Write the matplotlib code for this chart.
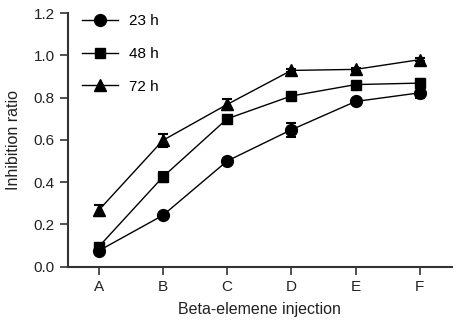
import matplotlib
matplotlib.use("Agg")
import matplotlib.pyplot as plt

plt.rcParams["font.family"] = ["Liberation Sans", "DejaVu Sans"]

groups = ["A", "B", "C", "D", "E", "F"]
h23 = [0.075, 0.243, 0.500, 0.648, 0.782, 0.823]
h23_err = [0.012, 0.010, 0.008, 0.033, 0.010, 0.025]
h48 = [0.094, 0.425, 0.700, 0.808, 0.862, 0.869]
h48_err = [0.012, 0.025, 0.008, 0.008, 0.008, 0.018]
h72 = [0.267, 0.598, 0.768, 0.929, 0.934, 0.980]
h72_err = [0.025, 0.032, 0.025, 0.008, 0.008, 0.008]

x = list(range(len(groups)))

fig = plt.figure(figsize=(4.62, 3.22), dpi=100)
ax = fig.add_axes([0.147, 0.172, 0.831, 0.787])

series = [
    ("23 h", h23, h23_err, "o", 8.5),
    ("48 h", h48, h48_err, "s", 6.5),
    ("72 h", h72, h72_err, "^", 8.5),
]
for label, vals, err, mk, ms in series:
    ax.errorbar(x, vals, yerr=err, color="black", marker=mk, markersize=ms,
                linewidth=1.0, elinewidth=1.2, capsize=3.5, capthick=1.5,
                label=label)

ax.set_xlim(-0.48, 5.5)
ax.set_ylim(0, 1.2)
ax.set_xticks(x)
ax.set_xticklabels(groups)
ax.set_yticks([0.0, 0.2, 0.4, 0.6, 0.8, 1.0, 1.2])
ax.set_yticklabels(["0.0", "0.2", "0.4", "0.6", "0.8", "1.0", "1.2"])

for side in ["top", "right"]:
    ax.spines[side].set_visible(False)
for side in ["left", "bottom"]:
    ax.spines[side].set_linewidth(1.5)
    ax.spines[side].set_color("#333333")
ax.tick_params(direction="out", length=5.5, width=1.2, labelsize=11, colors="#333333")
ax.tick_params(axis="y", pad=4)
ax.tick_params(axis="x", pad=4)
ax.tick_params(labelcolor="#222222")

ax.set_xlabel("Beta-elemene injection", fontsize=11.5, labelpad=6, color="#222222")
ax.set_ylabel("Inhibition ratio", fontsize=11.5, labelpad=9, color="#222222")

handles, labels = ax.get_legend_handles_labels()
handles = [h[0] for h in handles]
ax.legend(handles, labels, loc="upper left", frameon=False, fontsize=11,
          handlelength=2.35, labelspacing=1.22, handletextpad=0.72,
          borderaxespad=0.0, bbox_to_anchor=(0.02, 1.02))

fig.savefig("out.png", dpi=100)
